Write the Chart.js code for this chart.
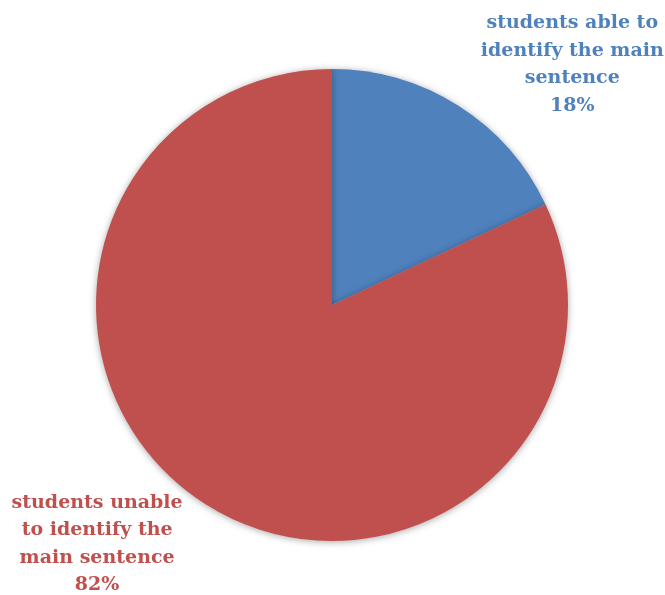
<!DOCTYPE html>
<html>
<head>
<meta charset="utf-8">
<script src="https://cdn.jsdelivr.net/npm/chart.js@4"></script>
<style>
  html, body { margin: 0; padding: 0; background: #fff; }
  #wrap { width: 665px; height: 595px; }
</style>
</head>
<body>
<div id="wrap"><canvas id="canvas_pie" width="665" height="595"></canvas></div>
<script>
// chart data
var categories = [
  ["students able to", "identify the main", "sentence"],
  ["students unable", "to identify the", "main sentence"]
];
var percents = [18, 82];
var sliceColors = ["#4F81BD", "#C0504D"];

// where each label sits: angle from top (deg, clockwise) and distance in radii
var labelSpots = [[45, 1.44], [224.5, 1.42]];

var shadowPlugin = {
  id: "sliceShadow",
  beforeDatasetDraw: function(chart) {
    var ctx = chart.ctx;
    ctx.save();
    ctx.shadowColor = "rgba(0,0,0,0.35)";
    ctx.shadowBlur = 7;
    ctx.shadowOffsetX = 0;
    ctx.shadowOffsetY = 1;
  },
  afterDatasetDraw: function(chart) {
    chart.ctx.restore();
  }
};

var labelPlugin = {
  id: "sliceLabels",
  afterDraw: function(chart) {
    var ctx = chart.ctx;
    var meta = chart.getDatasetMeta(0);
    meta.data.forEach(function(arc, i) {
      var a = labelSpots[i][0] * Math.PI / 180;
      var r = arc.outerRadius * labelSpots[i][1];
      var cx = arc.x + Math.sin(a) * r;
      var cy = arc.y - Math.cos(a) * r;
      var lines = categories[i].concat([percents[i] + "%"]);
      var lh = 27.5;
      ctx.save();
      ctx.fillStyle = sliceColors[i];
      ctx.font = "bold 19px 'DejaVu Serif'";
      ctx.textAlign = "center";
      ctx.textBaseline = "middle";
      lines.forEach(function(t, k) {
        ctx.fillText(t, cx, cy + (k - (lines.length - 1) / 2) * lh);
      });
      ctx.restore();
    });
  }
};

function drawPie() {
  var ctx = document.getElementById("canvas_pie");
  var pieChart = new Chart(ctx, {
    type: "pie",
    data: {
      labels: categories.map(function(c) { return c.join(" "); }),
      datasets: [{
        data: percents,
        backgroundColor: sliceColors,
        borderWidth: 0
      }]
    },
    options: {
      responsive: false,
      animation: false,
      layout: { padding: { left: 96, right: 97, top: 69, bottom: 54 } },
      plugins: {
        legend: { display: false },
        tooltip: { enabled: false }
      }
    },
    plugins: [shadowPlugin, labelPlugin]
  });
}

drawPie();
</script>
</body>
</html>
